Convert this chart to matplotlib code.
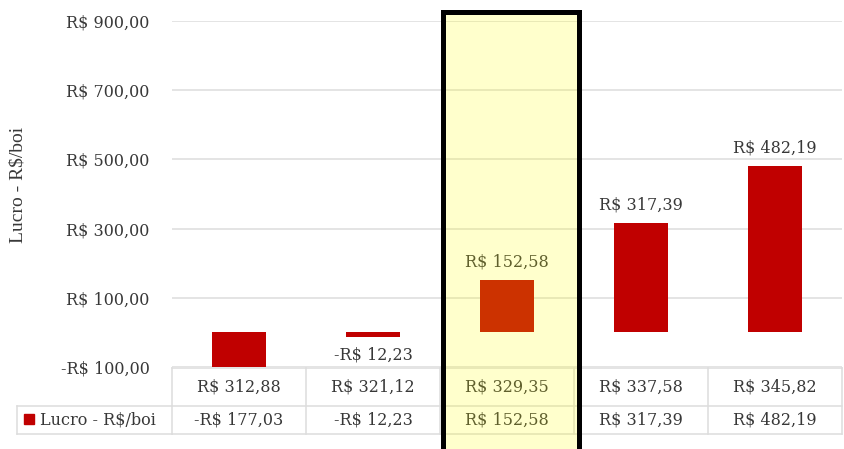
import matplotlib.pyplot as plt
from matplotlib.patches import Rectangle
from matplotlib.transforms import blended_transform_factory

precos = ["R$ 312,88", "R$ 321,12", "R$ 329,35", "R$ 337,58", "R$ 345,82"]
lucro = [-177.03, -12.23, 152.58, 317.39, 482.19]
y_ticks = [-100, 100, 300, 500, 700, 900]
serie = "Lucro - R$/boi"
destaque = 2  # coluna em destaque

VERMELHO = "#C00000"
TEXTO = "#383838"
GRADE = "#DDDDDD"
W, H = 844, 449


def brl(v):
    s = f"{abs(v):.2f}".replace(".", ",")
    return ("-R$ " if v < 0 else "R$ ") + s


def fy(py):
    # pixel (de cima) -> fração da figura
    return 1 - py / H


def fx(px):
    return px / W


plt.rcParams["font.family"] = "DejaVu Serif"
plt.rcParams["font.size"] = 11.5

fig = plt.figure(figsize=(W / 100, H / 100), dpi=100)
ax = fig.add_axes([fx(172), fy(367), fx(842) - fx(172), fy(21) - fy(367)])

x = list(range(len(lucro)))
ax.bar(x, lucro, width=0.41, color=VERMELHO, zorder=2)
ax.set_xlim(-0.5, len(lucro) - 0.5)
ax.set_ylim(y_ticks[0], y_ticks[-1])

ax.set_yticks(y_ticks)
ax.set_yticklabels([brl(v) for v in y_ticks], color=TEXTO)
ax.tick_params(axis="y", length=0, pad=16)
ax.set_xticks([])
ax.grid(axis="y", color=GRADE, linewidth=1.1, zorder=0)
for s in ax.spines.values():
    s.set_visible(False)

# rótulos de dados
for xi, v in zip(x, lucro):
    if v < y_ticks[0]:
        continue
    off = 13 if v >= 0 else -13
    ax.annotate(brl(v), (xi, v), xytext=(0, off), textcoords="offset points",
                ha="center", va="center", color=TEXTO)

fig.text(fx(18), fy(185), serie, rotation=90, ha="center", va="center",
         family="Liberation Serif", fontsize=14, color=TEXTO)

# tabela de dados
tr = blended_transform_factory(ax.transData, fig.transFigure)
y_top, y_mid, y_bot = fy(368), fy(406), fy(434)
for yy in (y_top, y_mid, y_bot):
    ax.plot([-0.5, len(lucro) - 0.5], [yy, yy], transform=tr, color=GRADE,
            lw=1.1, clip_on=False)
for i in range(len(lucro) + 1):
    ax.plot([i - 0.5, i - 0.5], [y_top, y_bot], transform=tr, color=GRADE,
            lw=1.1, clip_on=False)
for xi, p, v in zip(x, precos, lucro):
    ax.text(xi, fy(387), p, transform=tr, ha="center", va="center", color=TEXTO)
    ax.text(xi, fy(420), brl(v), transform=tr, ha="center", va="center", color=TEXTO)

# célula da legenda
fig.add_artist(plt.Line2D([fx(17), fx(172)], [y_mid, y_mid], color=GRADE, lw=1.1))
fig.add_artist(plt.Line2D([fx(17), fx(172)], [y_bot, y_bot], color=GRADE, lw=1.1))
fig.add_artist(plt.Line2D([fx(17), fx(17)], [y_mid, y_bot], color=GRADE, lw=1.1))
fig.add_artist(Rectangle((fx(24), fy(424)), fx(10), fy(0) - fy(10),
                         color=VERMELHO, transform=fig.transFigure))
fig.text(fx(40), fy(420), serie, ha="left", va="center", color=TEXTO)

# destaque da coluna
fig.add_artist(Rectangle((fx(442.5), -0.05), fx(578.5) - fx(442.5), fy(12.5) + 0.05,
                         facecolor=(1, 1, 0, 0.2), edgecolor="black", linewidth=3.6,
                         transform=fig.transFigure, zorder=10))

fig.savefig("out.png", dpi=100, facecolor="white")
